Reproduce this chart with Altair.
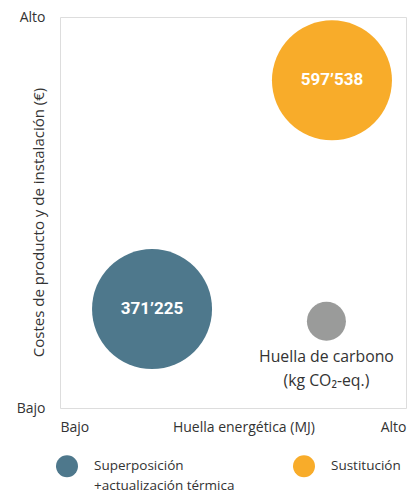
import altair as alt
import pandas as pd

# Data (relative 0-100 scales: low -> high)
series = ["Superposición|+actualización térmica", "Sustitución| "]
energy = [26.6, 78.6]          # Huella energética (relative)
cost = [25.3, 83.8]            # Costes (relative)
value_labels = ["371’225", "597’538"]
colors = ["#4E788C", "#F8AC2A"]

carbon_x = [77.0]
carbon_y = [22.2]
carbon_label = ["Huella de carbono\n(kg CO₂-eq.)"]

x_tick_values = [0, 53, 100]
x_tick_labels = ["Bajo", "Huella energética (MJ)", "Alto"]
y_tick_values = [0, 100]
y_tick_labels = ["Bajo", "Alto"]

FONT = "Open Sans"
NUMFONT = "Roboto"
TXT = "#333333"

df = pd.DataFrame({"serie": series, "energy": energy, "cost": cost, "label": value_labels})
dfc = pd.DataFrame({"energy": carbon_x, "cost": carbon_y, "label": carbon_label})

def expr_for(values, labels):
    e = "''"
    for v, l in reversed(list(zip(values, labels))):
        e = f"datum.value == {v} ? '{l}' : ({e})"
    return e

xs = alt.Scale(domain=[0, 100], nice=False, zero=False)
ys = alt.Scale(domain=[0, 100], nice=False, zero=False)

xax = alt.Axis(title=None, values=x_tick_values, labelExpr=expr_for(x_tick_values, x_tick_labels),
               grid=False, domain=False, ticks=False, labelFlush=True, labelPadding=12,
               labelFont=FONT, labelFontSize=14, labelColor=TXT)
yax = alt.Axis(title="Costes de producto y de instalación (€)", values=y_tick_values,
               labelExpr=expr_for(y_tick_values, y_tick_labels),
               grid=False, domain=False, ticks=False, labelPadding=15, labelBaseline="middle",
               labelFont=FONT, labelFontSize=14, labelColor=TXT,
               titleFont=FONT, titleFontSize=15, titleFontWeight="normal", titleColor=TXT,
               titleX=-22, titleY=205, titleAngle=270, titleAlign="center", titleBaseline="middle")

base = alt.Chart(df).encode(
    x=alt.X("energy:Q", scale=xs, axis=xax),
    y=alt.Y("cost:Q", scale=ys, axis=yax),
)

bubbles = base.mark_circle(opacity=1, size=14400).encode(
    color=alt.Color("serie:N", scale=alt.Scale(domain=series, range=colors),
                    legend=alt.Legend(title=None, orient="none", legendX=-4, legendY=438,
                                      direction="horizontal", columns=2, columnPadding=58,
                                      symbolType="circle", symbolSize=484, symbolOpacity=1,
                                      symbolStrokeWidth=0, labelOffset=16,
                                      labelExpr="split(datum.label, '|')",
                                      labelFont=FONT, labelFontSize=13.5, labelColor=TXT,
                                      labelLimit=300))
)

nums = base.mark_text(color="white", font=NUMFONT, fontSize=17, fontWeight="bold").encode(text="label:N")

carbon = alt.Chart(dfc).mark_circle(color="#9A9B9A", opacity=1, size=1521).encode(
    x=alt.X("energy:Q", scale=xs), y=alt.Y("cost:Q", scale=ys))
carbon_txt = alt.Chart(dfc).mark_text(font=FONT, fontSize=15.8, color=TXT, baseline="top",
                                      lineBreak="\n", lineHeight=24, dy=29).encode(
    x=alt.X("energy:Q", scale=xs), y=alt.Y("cost:Q", scale=ys), text="label:N")

chart = alt.layer(bubbles, nums, carbon, carbon_txt).properties(
    width=346, height=391,
    padding={"left": 8, "top": 2, "right": 2, "bottom": 2},
).configure_view(stroke="#222222", strokeWidth=1.5).configure(
    style={"guide-label": {"lineHeight": 20}}
)

chart.save("out.html", embed_options={"renderer": "svg", "actions": False})
